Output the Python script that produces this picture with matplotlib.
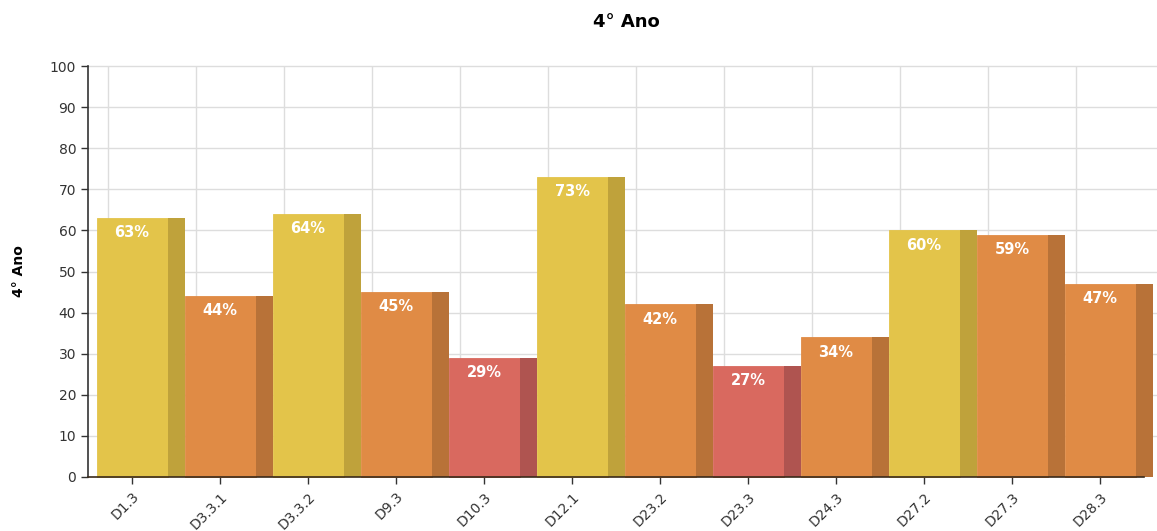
import matplotlib.pyplot as plt
import numpy as np

categories = ["D1.3", "D3.3.1", "D3.3.2", "D9.3", "D10.3", "D12.1",
              "D23.2", "D23.3", "D24.3", "D27.2", "D27.3", "D28.3"]
values = [63, 44, 64, 45, 29, 73, 42, 27, 34, 60, 59, 47]
y_ticks = list(range(0, 101, 10))

# front / side colours by level
palette = {
    "low": ("#D9695F", "#AF5450"),
    "mid": ("#E08B45", "#B87238"),
    "high": ("#E3C44A", "#BFA23B"),
}


def level(v):
    if v < 30:
        return "low"
    if v < 60:
        return "mid"
    return "high"


fig = plt.figure(figsize=(11.57, 5.31), dpi=100)
ax = fig.add_axes([0.0761, 0.1017, 0.9127, 0.774])

x = np.arange(len(categories))
front_w = 71 / 88
side_w = 17 / 88

fronts = [palette[level(v)][0] for v in values]
sides = [palette[level(v)][1] for v in values]

ax.bar(x, values, width=front_w, color=fronts, edgecolor=fronts,
       linewidth=0.6, zorder=3, clip_on=False)
ax.bar(x + front_w / 2 + side_w / 2, values, width=side_w, color=sides,
       zorder=3, clip_on=False)

for xi, v in zip(x, values):
    ax.text(xi, v - 3.6, f"{v}%", ha="center", va="center", color="white",
            fontsize=10.5, fontweight="bold", zorder=5)

ax.set_xlim(-0.5, len(categories) - 0.5)
ax.set_ylim(0, 100)
ax.set_yticks(y_ticks)
ax.set_xticks(x)
ax.set_xticklabels(categories, rotation=45, ha="right", rotation_mode="anchor")
ax.tick_params(axis="both", colors="#333333", labelsize=10, length=5, width=1)
ax.tick_params(axis="x", pad=4)

# back-wall grid
for yv in y_ticks[1:]:
    ax.axhline(yv, color="#dddddd", linewidth=1, zorder=1, xmax=1.02, clip_on=False)
for xi in x:
    ax.axvline(xi - 24 / 88, color="#dddddd", linewidth=1, zorder=1)

for s in ["top", "right"]:
    ax.spines[s].set_visible(False)
ax.spines["left"].set_color("#333333")
ax.spines["bottom"].set_color("#3a2a1a")
ax.spines["bottom"].set_zorder(6)
ax.spines["left"].set_linewidth(1.2)
ax.spines["bottom"].set_linewidth(1.2)

fig.text(0.541, 0.958, "4° Ano", ha="center", va="center",
         fontsize=13, fontweight="bold")
fig.text(0.016, 0.49, "4° Ano", ha="center", va="center", rotation=90,
         fontsize=10, fontweight="bold")

fig.savefig("out.png", dpi=100)
